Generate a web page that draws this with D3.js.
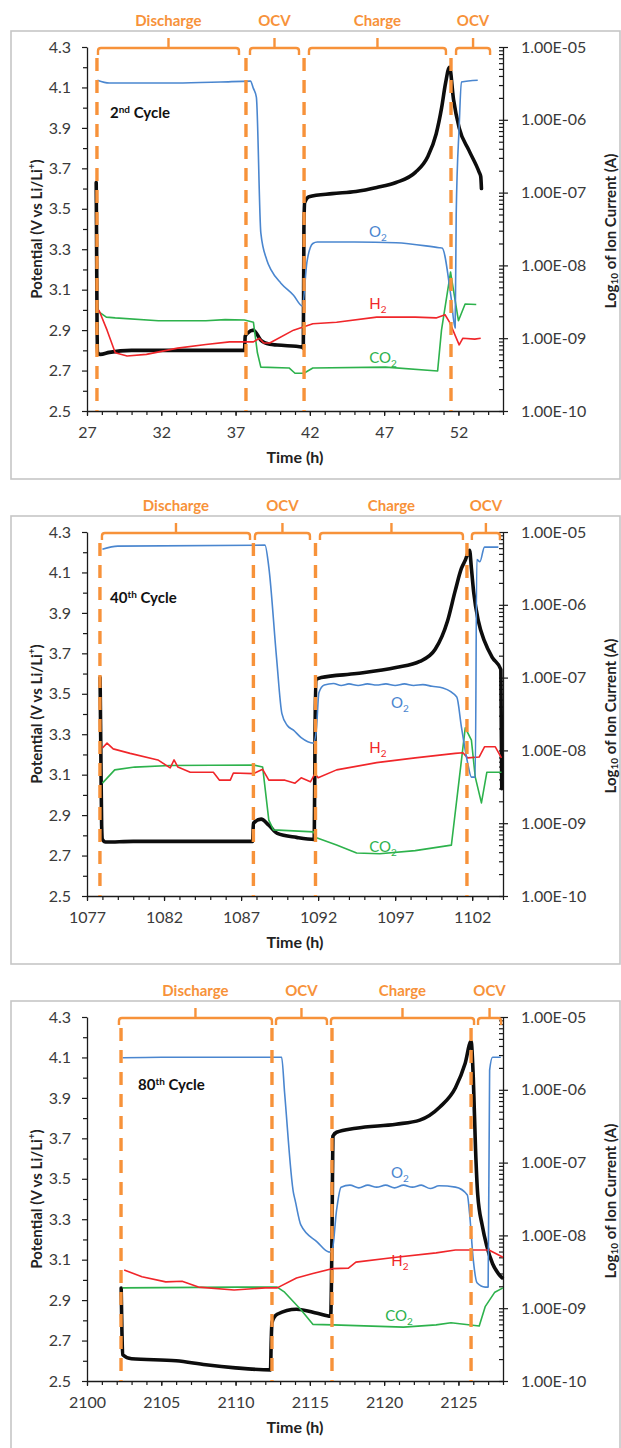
<!DOCTYPE html>
<html>
<head>
<meta charset="utf-8">
<script src="https://cdn.jsdelivr.net/npm/d3@7"></script>
<style>
  html, body { margin: 0; padding: 0; background: #fff; }
  svg { display: block; font-family: Lato, "Open Sans", sans-serif; }
</style>
</head>
<body>
<svg id="chart" width="621" height="1448"></svg>
<script>
// ---------------- Data ----------------
// Tick values and labels shared by the three cycles
const potentialTicks = [2.5, 2.7, 2.9, 3.1, 3.3, 3.5, 3.7, 3.9, 4.1, 4.3];
const currentTicks = [1e-10, 1e-9, 1e-8, 1e-7, 1e-6, 1e-5];
const currentTickLabels = ["1.00E-10", "1.00E-09", "1.00E-08", "1.00E-07", "1.00E-06", "1.00E-05"];
const phaseNames = ["Discharge", "OCV", "Charge", "OCV"];

// ----- 2nd cycle -----
const timeTicks2 = [27, 32, 37, 42, 47, 52];
const timeRange2 = [27, 55];
const boundaries2 = [27.67, 37.70, 41.61, 51.50];
const phases2 = [[27.74, 37.23], [37.97, 41.27], [41.94, 51.16], [51.84, 54.13]];
const potential2 = [[27.62,3.63],[27.64,3.40],[27.67,3.00],[27.70,2.79],[27.90,2.78],[28.5,2.79],[30,2.80],[33,2.80],[35,2.80],[37.6,2.80],[37.65,2.87],[37.8,2.885],[38.2,2.90],[38.7,2.85],[39.3,2.83],[39.8,2.826],[41.5,2.816],[41.56,2.81],[41.6,3.40],[41.65,3.53],[41.94,3.56],[43.5,3.575],[45.1,3.585],[46.5,3.605],[47.8,3.63],[49.1,3.68],[49.95,3.76],[50.5,3.87],[50.87,4.0],[51.13,4.12],[51.4,4.2],[51.67,4.04],[52.05,3.90],[52.7,3.79],[53.4,3.68],[53.5,3.66],[53.55,3.60]];
const o2_2 = [[27.7,3.5e-6],[28.5,3.2e-6],[30,3.2e-6],[33,3.2e-6],[36,3.3e-6],[38.0,3.4e-6],[38.2,2.7e-6],[38.4,2.05e-6],[38.7,2.8e-8],[39.1,1.19e-8],[39.4,8.6e-9],[40.05,5.7e-9],[40.9,3.9e-9],[41.5,2.77e-9],[41.8,1.1e-8],[42.2,2.0e-8],[42.5,2.1e-8],[45,2.1e-8],[47.8,2.05e-8],[50.7,1.75e-8],[50.9,1.73e-8],[51.5,3.7e-9],[51.78,1.38e-9],[51.85,5e-8],[52.05,8e-7],[52.2,3.3e-6],[53.3,3.5e-6]];
const h2_2 = [[27.8,2.44e-9],[28.35,1.29e-9],[28.9,6.3e-10],[29.7,5.7e-10],[31,6.0e-10],[33.1,7.3e-10],[35,8.2e-10],[36.6,8.9e-10],[38.2,8.9e-10],[38.6,1.0e-9],[38.9,8.6e-10],[39.3,8.6e-10],[40.9,1.29e-9],[42.2,1.58e-9],[43.8,1.66e-9],[46.5,1.95e-9],[49.1,1.95e-9],[50.5,1.9e-9],[51.1,2.1e-9],[51.4,1.66e-9],[52.05,8.1e-10],[52.3,1.0e-9],[53.1,9.7e-10],[53.5,1.0e-9]];
const co2_2 = [[27.8,2.3e-9],[28.3,1.95e-9],[28.9,1.9e-9],[31.8,1.74e-9],[35,1.74e-9],[36.3,1.8e-9],[37.6,1.78e-9],[38.2,1.66e-9],[38.47,6.3e-10],[38.7,4.0e-10],[40.6,3.9e-10],[41.0,3.3e-10],[41.6,3.3e-10],[42.2,3.9e-10],[47.1,4.0e-10],[50.6,3.55e-10],[50.86,1.29e-9],[51.47,8.1e-9],[52.0,1.74e-9],[52.45,2.95e-9],[53.2,2.9e-9]];

// ----- 40th cycle -----
const timeTicks40 = [1077, 1082, 1087, 1092, 1097, 1102];
const timeRange40 = [1077, 1104];
const boundaries40 = [1077.84, 1087.8, 1091.83, 1101.66];
const phases40 = [[1077.97, 1087.58], [1087.9, 1091.47], [1092.12, 1101.4], [1101.98, 1103.8]];
const potential40 = [[1077.85,3.58],[1077.9,3.2],[1077.95,2.85],[1078.0,2.78],[1078.2,2.767],[1080,2.77],[1085,2.77],[1087.75,2.77],[1087.8,2.86],[1088.3,2.88],[1088.8,2.85],[1089.35,2.81],[1090.6,2.79],[1091.75,2.78],[1091.8,3.3],[1091.85,3.57],[1092.2,3.58],[1094.5,3.60],[1097.05,3.63],[1098.6,3.66],[1099.6,3.72],[1100.4,3.86],[1100.9,4.01],[1101.3,4.12],[1101.55,4.16],[1101.83,4.21],[1101.95,4.12],[1102.1,4.0],[1102.4,3.86],[1102.8,3.76],[1103.3,3.68],[1103.86,3.62],[1103.92,3.03]];
const o2_40 = [[1078.0,5.8e-6],[1079,6.4e-6],[1088.55,6.6e-6],[1088.8,3.3e-6],[1089.3,1.9e-7],[1089.65,3.2e-8],[1090.0,2.2e-8],[1090.4,1.9e-8],[1090.9,1.5e-8],[1091.7,1.26e-8],[1091.9,2.1e-8],[1092.05,6.2e-8],[1092.4,7.9e-8],[1093,8.3e-8],[1093.5,7.8e-8],[1094,8.2e-8],[1094.6,7.8e-8],[1095.2,8.2e-8],[1095.8,7.9e-8],[1096.4,8.2e-8],[1097,7.8e-8],[1097.6,8.2e-8],[1098.2,7.8e-8],[1098.8,8.0e-8],[1099.4,7.6e-8],[1100.1,7.2e-8],[1101.0,5.4e-8],[1101.3,2.1e-8],[1101.7,6.8e-9],[1101.95,4.3e-9],[1102.2,4.3e-9],[1102.3,4.2e-6],[1102.5,3.9e-6],[1102.8,6.2e-6],[1103.7,6.2e-6]];
const h2_40 = [[1078.0,1.08e-8],[1078.3,1.26e-8],[1078.7,1.05e-8],[1079.8,9.1e-9],[1081.6,7.4e-9],[1082.4,5.75e-9],[1082.65,7.4e-9],[1082.9,5.9e-9],[1083.7,5.0e-9],[1085.2,5.0e-9],[1085.6,3.9e-9],[1086.3,3.9e-9],[1086.5,4.9e-9],[1087.8,4.8e-9],[1088.4,5.5e-9],[1088.8,3.9e-9],[1089.85,3.9e-9],[1090.5,3.55e-9],[1090.9,4.2e-9],[1091.5,3.7e-9],[1091.8,4.8e-9],[1092,4.2e-9],[1093.2,5.4e-9],[1095.8,6.8e-9],[1098.3,7.9e-9],[1100.9,9.1e-9],[1101.4,9.3e-9],[1101.7,7.9e-9],[1102.45,8.1e-9],[1102.8,1.12e-8],[1103.5,1.12e-8],[1103.9,7.9e-9]];
const co2_40 = [[1078.0,3.55e-9],[1078.8,5.4e-9],[1080.1,5.9e-9],[1082.4,6.2e-9],[1087.8,6.3e-9],[1088.4,5.9e-9],[1088.8,1.1e-9],[1089.1,8.1e-10],[1091.7,7.6e-10],[1091.9,6.3e-10],[1093.2,5.0e-10],[1094.5,3.9e-10],[1096.0,3.8e-10],[1098.3,4.2e-10],[1100.65,5.0e-10],[1101.15,3.9e-9],[1101.55,2.04e-8],[1101.95,1.38e-8],[1102.2,4.3e-9],[1102.6,1.9e-9],[1102.95,5.0e-9],[1103.9,5.0e-9]];

// ----- 80th cycle -----
const timeTicks80 = [2100, 2105, 2110, 2115, 2120, 2125];
const timeRange80 = [2100, 2128];
const boundaries80 = [2102.29, 2112.45, 2116.49, 2125.85];
const phases80 = [[2102.15, 2112.45], [2112.72, 2116.15], [2116.42, 2126.05], [2126.32, 2127.87]];
const potential80 = [[2102.3,2.96],[2102.35,2.75],[2102.4,2.63],[2103,2.61],[2106,2.60],[2108,2.58],[2110,2.565],[2112.35,2.555],[2112.4,2.70],[2112.45,2.79],[2112.8,2.83],[2114.1,2.855],[2115.5,2.835],[2116.4,2.82],[2116.5,3.3],[2116.55,3.71],[2116.8,3.73],[2118.1,3.75],[2120.8,3.77],[2122.4,3.79],[2123.75,3.855],[2124.8,3.95],[2125.45,4.07],[2125.85,4.18],[2126.0,4.0],[2126.15,3.65],[2126.3,3.42],[2126.6,3.27],[2126.9,3.17],[2127.3,3.08],[2127.7,3.03],[2127.95,3.01]];
const o2_80 = [[2102.4,2.75e-6],[2105,2.8e-6],[2110,2.8e-6],[2113.1,2.8e-6],[2113.3,9.1e-7],[2113.9,3.8e-8],[2114.0,3.1e-8],[2114.4,1.38e-8],[2115.5,8.1e-9],[2116.3,5.9e-9],[2116.5,6.2e-9],[2116.8,2.24e-8],[2117.1,4.6e-8],[2117.7,4.9e-8],[2118.3,4.5e-8],[2118.9,4.9e-8],[2119.5,4.6e-8],[2120.1,4.9e-8],[2120.7,4.5e-8],[2121.3,4.9e-8],[2121.9,4.6e-8],[2122.5,4.9e-8],[2123.1,4.4e-8],[2123.7,4.8e-8],[2124.8,4.6e-8],[2125.6,3.6e-8],[2125.75,2.0e-8],[2126.0,4.6e-9],[2126.25,2.24e-9],[2126.8,1.95e-9],[2127.0,1.95e-9],[2127.1,1.86e-6],[2127.3,2.8e-6],[2127.85,2.8e-6]];
const h2_80 = [[2102.5,3.35e-9],[2103.7,2.7e-9],[2105.3,2.3e-9],[2106.4,2.34e-9],[2107.5,1.95e-9],[2109.9,1.78e-9],[2112.0,1.9e-9],[2112.8,1.9e-9],[2114.1,2.6e-9],[2115.2,3.0e-9],[2116.55,3.5e-9],[2117.6,3.55e-9],[2118.1,4.3e-9],[2120.8,5.0e-9],[2123.5,5.75e-9],[2124.8,6.3e-9],[2126.1,6.3e-9],[2127.05,6.3e-9],[2128,5.0e-9]];
const co2_80 = [[2102.4,1.9e-9],[2110.15,1.95e-9],[2112.8,1.95e-9],[2113.3,1.66e-9],[2114.4,9.5e-10],[2115.2,6.0e-10],[2116.55,5.9e-10],[2121.3,5.5e-10],[2123.5,5.9e-10],[2124.5,6.3e-10],[2126.4,5.7e-10],[2126.8,1.05e-9],[2127.45,1.66e-9],[2128,1.9e-9]];

// Panel table assembled from the arrays above
const panels = [
  { ord: "2", sup: "nd", range: timeRange2, ticks: timeTicks2, bounds: boundaries2, phases: phases2,
    potential: potential2, o2: o2_2, h2: h2_2, co2: co2_2,
    cyclePos: [110, 118], o2Pos: [378, 232], h2Pos: [378, 304], co2Pos: [383, 358] },
  { ord: "40", sup: "th", range: timeRange40, ticks: timeTicks40, bounds: boundaries40, phases: phases40,
    potential: potential40, o2: o2_40, h2: h2_40, co2: co2_40,
    cyclePos: [110, 118], o2Pos: [400, 218], h2Pos: [378, 263], co2Pos: [383, 362] },
  { ord: "80", sup: "th", range: timeRange80, ticks: timeTicks80, bounds: boundaries80, phases: phases80,
    potential: potential80, o2: o2_80, h2: h2_80, co2: co2_80,
    cyclePos: [138, 120], o2Pos: [400, 203], h2Pos: [400, 291], co2Pos: [399, 346] }
];

// ---------------- Layout / style ----------------
const PLOT = { left: 87, right: 503, top: 47, bottom: 411 };
const PANEL_STEP = 485;
const COLORS = { orange: "#F7923A", o2: "#4A86CF", h2: "#F0262A", co2: "#2DB24C", axis: "#1a1a1a", text: "#3a3a3a" };

const svg = d3.select("#chart");
svg.append("rect").attr("width", 621).attr("height", 1448).attr("fill", "#fff");

const yV = d3.scaleLinear().domain([2.5, 4.3]).range([PLOT.bottom, PLOT.top]);
const yI = d3.scaleLog().domain([1e-10, 1e-5]).range([PLOT.bottom, PLOT.top]);

const potentialMinor = d3.range(26, 43, 2).map(v => v / 10);
const currentMinor = [];
currentTicks.slice(0, -1).forEach(d => { for (let m = 2; m <= 9; m++) currentMinor.push(d * m); });

function styleAxis(sel, fontSize) {
  sel.select(".domain").attr("stroke", COLORS.axis).attr("stroke-width", 1.3);
  sel.selectAll(".tick line").attr("stroke", COLORS.axis).attr("stroke-width", 1.2);
  sel.selectAll(".tick text").attr("fill", COLORS.text).attr("font-size", fontSize).attr("font-family", "Lato, sans-serif");
}

panels.forEach((p, i) => {
  const g = svg.append("g").attr("transform", `translate(0,${i * PANEL_STEP})`);

  // frame
  g.append("rect").attr("x", 11).attr("y", 31).attr("width", 609).attr("height", 448)
    .attr("fill", "none").attr("stroke", "#c6c6c6").attr("stroke-width", 1.6);

  const x = d3.scaleLinear().domain(p.range).range([PLOT.left, PLOT.right]);
  const timeMinor = d3.range(p.range[0], p.range[1] + 1);

  // x axis: minor then major ticks
  g.append("g").attr("transform", `translate(0,${PLOT.bottom})`)
    .call(d3.axisBottom(x).tickValues(timeMinor).tickSize(4).tickFormat(""))
    .call(s => { styleAxis(s, 16); s.select(".domain").remove(); });
  g.append("g").attr("transform", `translate(0,${PLOT.bottom})`)
    .call(d3.axisBottom(x).tickValues(p.ticks).tickSize(5).tickPadding(11).tickSizeOuter(0).tickFormat(d3.format("d")))
    .call(s => styleAxis(s, 16));

  // left potential axis
  g.append("g").attr("transform", `translate(${PLOT.left},0)`)
    .call(d3.axisLeft(yV).tickValues(potentialMinor).tickSize(4).tickFormat(""))
    .call(s => { styleAxis(s, 16); s.select(".domain").remove(); });
  g.append("g").attr("transform", `translate(${PLOT.left},0)`)
    .call(d3.axisLeft(yV).tickValues(potentialTicks).tickSize(5).tickPadding(11).tickSizeOuter(0).tickFormat(d3.format(".1f")))
    .call(s => styleAxis(s, 16));

  // right ion-current axis (log)
  g.append("g").attr("transform", `translate(${PLOT.right},0)`)
    .call(d3.axisLeft(yI).tickValues(currentMinor.concat(currentTicks)).tickSize(4).tickFormat(""))
    .call(s => { styleAxis(s, 16); s.select(".domain").remove(); });
  g.append("g").attr("transform", `translate(${PLOT.right},0)`)
    .call(d3.axisRight(yI).tickValues(currentTicks).tickSize(5).tickPadding(13).tickSizeOuter(0)
      .tickFormat((d, k) => currentTickLabels[k]))
    .call(s => styleAxis(s, 16));

  // axis titles
  g.append("text").attr("x", (PLOT.left + PLOT.right) / 2).attr("y", 463)
    .attr("text-anchor", "middle").attr("font-size", 16).attr("font-weight", 700).attr("fill", "#222")
    .text("Time (h)");

  const lt = g.append("text").attr("transform", `translate(36,${(PLOT.top + PLOT.bottom) / 2}) rotate(-90)`)
    .attr("text-anchor", "middle").attr("dominant-baseline", "central")
    .attr("font-size", 15).attr("font-weight", 700).attr("fill", "#222");
  lt.append("tspan").text("Potential (V vs Li/Li");
  lt.append("tspan").attr("dy", -5).attr("font-size", 10).text("+");
  lt.append("tspan").attr("dy", 5).text(")");

  const rt = g.append("text").attr("transform", `translate(610,${(PLOT.top + PLOT.bottom) / 2 + 2}) rotate(-90)`)
    .attr("text-anchor", "middle").attr("dominant-baseline", "central")
    .attr("font-size", 15).attr("font-weight", 700).attr("fill", "#222");
  rt.append("tspan").text("Log");
  rt.append("tspan").attr("dy", 4).attr("font-size", 10).text("10");
  rt.append("tspan").attr("dy", -4).text(" of Ion Current (A)");

  // series
  const lineV = d3.line().x(d => x(d[0])).y(d => yV(d[1])).curve(d3.curveMonotoneX);
  const lineI = d3.line().x(d => x(d[0])).y(d => yI(d[1]));
  const lineIsmooth = d3.line().x(d => x(d[0])).y(d => yI(d[1])).curve(d3.curveMonotoneX);

  g.append("path").datum(p.potential).attr("d", lineV)
    .attr("fill", "none").attr("stroke", "#0d0d0d").attr("stroke-width", 3.6)
    .attr("stroke-linejoin", "round").attr("stroke-linecap", "round");
  [["co2", COLORS.co2, lineI], ["h2", COLORS.h2, lineI], ["o2", COLORS.o2, lineIsmooth]].forEach(([key, col, gen]) => {
    g.append("path").datum(p[key]).attr("d", gen)
      .attr("fill", "none").attr("stroke", col).attr("stroke-width", 1.6).attr("stroke-linejoin", "round");
  });

  // phase boundaries
  g.selectAll(".bound").data(p.bounds).join("line")
    .attr("x1", d => x(d)).attr("x2", d => x(d))
    .attr("y1", 58).attr("y2", PLOT.bottom)
    .attr("stroke", COLORS.orange).attr("stroke-width", 3.4).attr("stroke-dasharray", "13,9");

  // phase brackets and names
  p.phases.forEach((ph, k) => {
    const x0 = x(ph[0]), x1 = x(ph[1]), xc = (x0 + x1) / 2;
    g.append("path")
      .attr("d", `M${x0},55 L${x0},51 Q${x0},48 ${x0 + 3},48 L${x1 - 3},48 Q${x1},48 ${x1},51 L${x1},55 M${xc},48 L${xc},38`)
      .attr("fill", "none").attr("stroke", COLORS.orange).attr("stroke-width", 2.4);
    g.append("text").attr("x", xc).attr("y", 26).attr("text-anchor", "middle")
      .attr("font-size", 15).attr("font-weight", 700).attr("fill", COLORS.orange).text(phaseNames[k]);
  });

  // cycle label
  const ct = g.append("text").attr("x", p.cyclePos[0]).attr("y", p.cyclePos[1])
    .attr("font-size", 15).attr("font-weight", 700).attr("fill", "#111");
  ct.append("tspan").text(p.ord);
  ct.append("tspan").attr("dy", -5).attr("font-size", 10).text(p.sup);
  ct.append("tspan").attr("dy", 5).text(" Cycle");

  // gas labels
  const gasLabel = (pos, base, col) => {
    const t = g.append("text").attr("x", pos[0]).attr("y", pos[1] + 5).attr("text-anchor", "middle")
      .attr("font-size", 15).attr("fill", col);
    t.append("tspan").text(base);
    t.append("tspan").attr("dy", 4).attr("font-size", 10).text("2");
  };
  gasLabel(p.o2Pos, "O", COLORS.o2);
  gasLabel(p.h2Pos, "H", COLORS.h2);
  gasLabel(p.co2Pos, "CO", COLORS.co2);
});
</script>
</body>
</html>
